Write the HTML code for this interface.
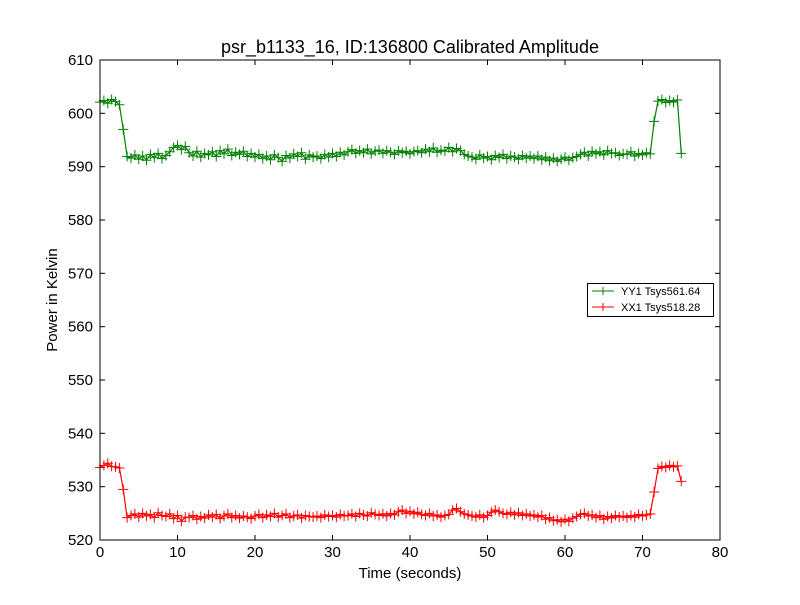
<!DOCTYPE html>
<html><head><meta charset="utf-8"><style>
body{margin:0;background:#fff;}
svg{font-family:"Liberation Sans","DejaVu Sans",sans-serif;}
</style></head><body>
<svg id="chart" width="800" height="600" viewBox="0 0 800 600">
<rect width="800" height="600" fill="#fff"/>
<text x="410" y="53" font-size="18" text-anchor="middle">psr_b1133_16, ID:136800 Calibrated Amplitude</text>
<text x="410" y="578" font-size="15" text-anchor="middle">Time (seconds)</text>
<text x="57" y="300" font-size="15" text-anchor="middle" transform="rotate(-90 57 300)">Power in Kelvin</text>
<g id="axes"></g>
<g id="series"></g>
<rect x="100" y="60" width="620" height="480" fill="none" stroke="#000" stroke-width="1"/>
<g>
<rect x="587.5" y="283.5" width="126" height="33" fill="#fff" stroke="#000"/>
<g>
<line x1="592" y1="291" x2="614" y2="291" stroke="#008000"/><path d="M603 287v8M599 291h8" stroke="#008000"/>
<text x="621" y="295" font-size="11">YY1 Tsys561.64</text></g>
<g>
<line x1="592" y1="307" x2="614" y2="307" stroke="#ff0000"/><path d="M603 303v8M599 307h8" stroke="#ff0000"/>
<text x="621" y="311" font-size="11">XX1 Tsys518.28</text></g>
</g>
</svg>
<script>
const xTicks=[0,10,20,30,40,50,60,70,80];
const yTicks=[520,530,540,550,560,570,580,590,600,610];
const timeStep=0.5;
const yy=[602.1,602.4,601.9,602.6,602.2,601.6,597.0,591.9,
591.6,592.2,591.4,592.0,591.2,592.3,591.7,592.5,591.5,592.1,592.8,
593.6,594.0,593.2,593.8,
592.6,592.0,592.9,591.8,592.5,592.2,592.8,591.9,593.0,592.4,593.3,592.1,592.7,592.3,592.9,591.9,592.5,
591.8,592.3,591.5,592.0,591.3,592.2,591.7,591.0,592.1,591.6,592.4,591.9,592.6,591.4,592.2,591.8,
592.0,591.5,592.3,591.8,592.5,591.9,592.7,592.2,
592.8,593.2,592.5,593.0,592.6,593.3,592.4,592.9,593.1,592.5,593.0,592.7,592.3,593.0,592.6,592.9,592.4,592.8,
593.0,592.6,593.3,592.8,593.5,592.7,593.1,592.9,593.6,592.8,593.4,593.0,592.3,592.0,
591.8,591.4,592.2,591.6,591.9,591.3,592.1,591.7,592.3,591.5,592.0,591.8,591.4,592.1,591.6,592.0,
591.5,592.0,591.3,591.8,591.1,591.6,591.0,591.4,591.8,591.2,591.7,591.9,
592.3,592.7,592.0,592.9,592.4,592.8,592.2,593.0,592.5,592.6,592.1,592.4,
592.3,592.8,592.0,592.5,592.2,592.6,592.4,
598.5,602.3,602.6,602.0,602.4,602.1,602.5,592.5];
const xx=[533.6,534.0,534.4,533.8,533.7,533.5,529.5,524.2,
524.6,524.9,524.3,525.0,524.5,524.8,524.2,525.1,524.6,524.4,524.9,
524.0,524.6,523.5,524.3,
524.2,524.6,523.9,524.4,524.1,524.7,524.3,524.8,524.0,524.5,524.9,524.2,524.6,524.1,524.5,524.3,524.0,
524.5,524.8,524.2,524.7,524.4,525.0,524.3,524.6,524.9,524.2,524.5,524.7,524.1,524.6,524.4,524.3,
524.5,524.2,524.7,524.4,524.6,524.3,524.8,524.5,
524.6,524.9,524.4,525.0,524.7,524.5,525.1,524.8,524.6,524.9,524.5,525.0,524.7,525.3,525.6,525.0,525.4,524.9,
525.2,524.8,524.6,525.0,524.5,524.7,524.3,524.6,524.8,525.6,525.9,525.3,524.9,524.7,
524.5,524.3,524.7,524.2,524.6,525.2,525.6,525.3,525.0,524.8,525.2,524.7,525.1,524.6,524.9,524.5,
524.7,524.3,524.6,523.9,524.2,523.6,523.8,523.4,523.9,523.5,524.1,524.4,
524.8,525.0,524.5,524.7,524.2,524.6,523.9,524.4,524.1,524.6,524.3,524.5,
524.2,524.6,524.3,524.8,524.5,524.7,524.9,
529.0,533.4,533.8,533.6,534.0,533.7,533.9,531.0];
const NS="http://www.w3.org/2000/svg";
const X=v=>100+(v-0)/(80-0)*620;
const Y=v=>540-(v-520)/(610-520)*480;
function mk(tag,attrs,parent){const e=document.createElementNS(NS,tag);for(const k in attrs)e.setAttribute(k,attrs[k]);parent.appendChild(e);return e;}
const axes=document.getElementById('axes');
xTicks.forEach(t=>{
  const x=X(t);
  const g=mk('g',{},axes);
  
  
  mk('line',{x1:x,y1:540,x2:x,y2:535,stroke:'#000'},g);
  mk('line',{x1:x,y1:60,x2:x,y2:65,stroke:'#000'},g);
  const tx=mk('text',{x:x,y:557,'font-size':15,'text-anchor':'middle'},g);
  tx.textContent=t;
});
yTicks.forEach(t=>{
  const y=Y(t);
  const g=mk('g',{},axes);
  
  
  mk('line',{x1:100,y1:y,x2:105,y2:y,stroke:'#000'},g);
  mk('line',{x1:720,y1:y,x2:715,y2:y,stroke:'#000'},g);
  const tx=mk('text',{x:93,y:y+5,'font-size':15,'text-anchor':'end'},g);
  tx.textContent=t;
});
const series=document.getElementById('series');
function draw(vals,color,name){
  const g=mk('g',{},series);
  
  
  const pts=vals.map((v,i)=>X(i*timeStep).toFixed(2)+','+Y(v).toFixed(2)).join(' ');
  mk('polyline',{points:pts,fill:'none',stroke:color,'stroke-width':1.2},g);
  let d='';
  vals.forEach((v,i)=>{const x=X(i*timeStep),y=Y(v);d+=`M${x-5},${y}h10M${x},${y-5}v10`;});
  const p=mk('path',{d:d,stroke:color,'stroke-width':1,fill:'none'},g);
  
  
}
draw(yy,'#008000','series-yy1');
draw(xx,'#ff0000','series-xx1');
</script>
</body></html>
